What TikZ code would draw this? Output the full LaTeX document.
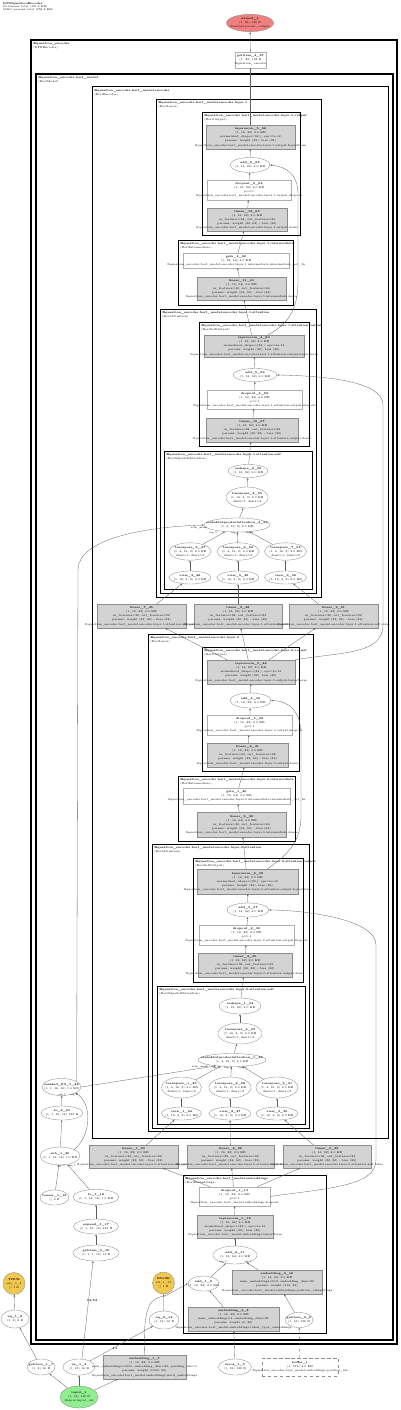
\documentclass[tikz,border=0pt]{standalone}
\usetikzlibrary{shapes.geometric,arrows.meta}

\definecolor{paramgray}{RGB}{211,211,211}
\definecolor{nodegray}{RGB}{140,140,140}
\definecolor{edgegray}{RGB}{95,95,95}
\definecolor{outred}{RGB}{240,128,128}
\definecolor{ingreen}{RGB}{144,238,144}
\definecolor{boolgold}{RGB}{240,200,80}

\newcommand{\nodefont}{\fontsize{2.8}{4.1}\selectfont}
\newcommand{\labfont}{\fontsize{2.5}{3}\selectfont}
\newcommand{\nlab}[2]{\makebox[0pt]{\begin{tabular}{@{}c@{}}\textbf{#1}\\#2\end{tabular}}}
\newcommand{\clus}[2]{\begin{tabular}{@{}l@{}}\textbf{#1}\\#2\end{tabular}}
\newcommand{\qe}{@question\_encoder.bert\_model}

\tikzset{
  fnode/.style={ellipse, draw=nodegray, line width=0.35pt, inner sep=0pt, font=\nodefont},
  pbox/.style={rectangle, draw=nodegray, fill=paramgray, line width=0.35pt, inner sep=0pt, font=\nodefont},
  mbox/.style={rectangle, draw=nodegray!70, fill=white, line width=0.35pt, inner sep=0pt, font=\nodefont},
  bnode/.style={circle, draw=nodegray, fill=boolgold, line width=0.35pt, inner sep=0pt, minimum size=22, font=\nodefont},
  edge/.style={draw=edgegray, line width=0.3pt, -{Stealth[length=2.2pt,width=1.7pt]}},
  elab/.style={inner sep=0pt, font=\labfont},
  clab/.style={anchor=north west, inner sep=0pt, font=\nodefont},
  d1/.style={line width=1.4pt}, d2/.style={line width=1.2pt}, d3/.style={line width=1.0pt},
  d4/.style={line width=0.8pt}, d5/.style={line width=0.6pt}, d6/.style={line width=0.5pt},
}

\begin{document}
\catcode`\_=12
\begin{tikzpicture}[x=1pt,y=-1pt]
\useasboundingbox (0,0) rectangle (400,1410);

\node[anchor=north west, inner sep=0pt, font=\fontsize{2.7}{3.4}\selectfont] (title) at (3,1.5)
  {\begin{tabular}{@{}l@{}}\textbf{DPRQuestionEncoder}\\69 tensors total (121.6 KB)\\65600 params total (256.2 KB)\end{tabular}};

% module boxes
\draw[d1] (31,40) rectangle (397,1344);
\node[clab] (c_qenc) at (33,41.5) {\clus{@question_encoder}{(DPREncoder)}};
\draw[d2] (36,74) rectangle (393,1340);
\node[clab] (c_bert) at (38,75.5) {\clus{\qe}{(BertModel)}};
\draw[d3] (92,87) rectangle (388,1138);
\node[clab] (c_enc) at (94,88.5) {\clus{\qe.encoder}{(BertEncoder)}};
\draw[d3] (183,1175) rectangle (326,1333);
\node[clab] (c_emb) at (185,1176.5) {\clus{\qe.embeddings}{(BertEmbeddings)}};

\draw[d4] (156,99) rectangle (321,597);
\node[clab] (c_l1) at (158,100.5) {\clus{\qe.encoder.layer.1}{(BertLayer)}};
\draw[d5] (202,112) rectangle (300,235);
\node[clab] (c_l1out) at (204,113.5) {\clus{\qe.encoder.layer.1.output}{(BertOutput)}};
\draw[d5] (178,240) rectangle (293,305);
\node[clab] (c_l1int) at (180,241.5) {\clus{\qe.encoder.layer.1.intermediate}{(BertIntermediate)}};
\draw[d5] (160,309) rectangle (316,593);
\node[clab] (c_l1att) at (162,310.5) {\clus{\qe.encoder.layer.1.attention}{(BertAttention)}};
\draw[d6] (199,322) rectangle (309,446);
\node[clab] (c_l1ao) at (201,323.5) {\clus{\qe.encoder.layer.1.attention.output}{(BertSelfOutput)}};
\draw[d6] (164,451) rectangle (312,589);
\node[clab] (c_l1as) at (166,452.5) {\clus{\qe.encoder.layer.1.attention.self}{(BertSdpaSelfAttention)}};

\draw[d4] (148,634) rectangle (313,1131);
\node[clab] (c_l0) at (150,635.5) {\clus{\qe.encoder.layer.0}{(BertLayer)}};
\draw[d5] (202,647) rectangle (299,771);
\node[clab] (c_l0out) at (204,648.5) {\clus{\qe.encoder.layer.0.output}{(BertOutput)}};
\draw[d5] (178,776) rectangle (295,841);
\node[clab] (c_l0int) at (180,777.5) {\clus{\qe.encoder.layer.0.intermediate}{(BertIntermediate)}};
\draw[d5] (152,844) rectangle (309,1128);
\node[clab] (c_l0att) at (154,845.5) {\clus{\qe.encoder.layer.0.attention}{(BertAttention)}};
\draw[d6] (193,858) rectangle (303,982);
\node[clab] (c_l0ao) at (195,859.5) {\clus{\qe.encoder.layer.0.attention.output}{(BertSelfOutput)}};
\draw[d6] (157,986) rectangle (305,1124);
\node[clab] (c_l0as) at (159,987.5) {\clus{\qe.encoder.layer.0.attention.self}{(BertSdpaSelfAttention)}};

% output
\node[fnode, fill=outred, minimum width=47, minimum height=15] (output_1) at (250,23) {\nlab{output_1}{(1, 32) 128 B\\@output.pooler_output}};
\node[mbox, minimum width=31, minimum height=16] (getitem_4_67) at (250.5,60) {\nlab{getitem_4_67}{(1, 32) 128 B\\@question_encoder}};

% layer 1
\node[pbox, minimum width=89, minimum height=24] (layernorm_5_66) at (250.5,137) {\nlab{layernorm_5_66}{(1, 16, 32) 2.0 KB\\normalized_shape=(32,), eps=1e-12\\params: weight (32), bias (32)\\\qe.encoder.layer.1.output.LayerNorm}};
\node[fnode, minimum width=40, minimum height=15] (add_6_65) at (250,165) {\nlab{add_6_65}{(1, 16, 32) 2.0 KB}};
\node[mbox, minimum width=84, minimum height=20] (dropout_5_64) at (249,190) {\nlab{dropout_5_64}{(1, 16, 32) 2.0 KB\\p=0.1\\\qe.encoder.layer.1.output.dropout}};
\node[pbox, minimum width=80, minimum height=23] (linear_12_63) at (247,219.5) {\nlab{linear_12_63}{(1, 16, 32) 2.0 KB\\in_features=64, out_features=32\\params: weight (32, 64) - bias (32)\\\qe.encoder.layer.1.output.dense}};
\node[mbox, minimum width=106, minimum height=15] (gelu_2_62) at (236,260.5) {\nlab{gelu_2_62}{(1, 16, 64) 4.0 KB\\\qe.encoder.layer.1.intermediate.intermediate_act_fn}};
\node[pbox, minimum width=89, minimum height=23] (linear_11_61) at (241.5,288.5) {\nlab{linear_11_61}{(1, 16, 64) 4.0 KB\\in_features=32, out_features=64\\params: weight (64, 32) - bias (64)\\\qe.encoder.layer.1.intermediate.dense}};
\node[pbox, minimum width=100, minimum height=22] (layernorm_4_60) at (254,346) {\nlab{layernorm_4_60}{(1, 16, 32) 2.0 KB\\normalized_shape=(32,), eps=1e-12\\params: weight (32), bias (32)\\\qe.encoder.layer.1.attention.output.LayerNorm}};
\node[fnode, minimum width=44, minimum height=13] (add_5_59) at (255,375) {\nlab{add_5_59}{(1, 16, 32) 2.0 KB}};
\node[mbox, minimum width=95, minimum height=19] (dropout_4_58) at (254.5,399.5) {\nlab{dropout_4_58}{(1, 16, 32) 2.0 KB\\p=0.1\\\qe.encoder.layer.1.attention.output.dropout}};
\node[pbox, minimum width=92, minimum height=24] (linear_10_57) at (252,430) {\nlab{linear_10_57}{(1, 16, 32) 2.0 KB\\in_features=32, out_features=32\\params: weight (32, 32) - bias (32)\\\qe.encoder.layer.1.attention.output.dense}};
\node[fnode, minimum width=40, minimum height=13] (reshape_2_56) at (248,471) {\nlab{reshape_2_56}{(1, 16, 32) 2.0 KB}};
\node[fnode, minimum width=42, minimum height=21] (transpose_8_55) at (247,497.5) {\nlab{transpose_8_55}{(1, 16, 4, 8) 2.0 KB\\dim0=1, dim1=2}};
\node[fnode, minimum width=66, minimum height=14] (scaleddotproductattention_2_54) at (237,525) {\nlab{scaleddotproductattention_2_54}{(1, 4, 16, 8) 2.0 KB}};
\node[fnode, minimum width=42, minimum height=17] (transpose_5_47) at (190,551.5) {\nlab{transpose_5_47}{(1, 4, 16, 8) 2.0 KB\\dim0=1, dim1=2}};
\node[fnode, minimum width=42, minimum height=17] (transpose_6_50) at (238,551.5) {\nlab{transpose_6_50}{(1, 4, 16, 8) 2.0 KB\\dim0=1, dim1=2}};
\node[fnode, minimum width=42, minimum height=17] (transpose_7_53) at (285.5,551.5) {\nlab{transpose_7_53}{(1, 4, 16, 8) 2.0 KB\\dim0=1, dim1=2}};
\node[fnode, minimum width=42, minimum height=13] (view_4_46) at (190,577.5) {\nlab{view_4_46}{(1, 16, 4, 8) 2.0 KB}};
\node[fnode, minimum width=42, minimum height=13] (view_5_49) at (238,577.5) {\nlab{view_5_49}{(1, 16, 4, 8) 2.0 KB}};
\node[fnode, minimum width=42, minimum height=13] (view_6_52) at (285.5,577.5) {\nlab{view_6_52}{(1, 16, 4, 8) 2.0 KB}};
\node[pbox, minimum width=89, minimum height=24] (linear_7_45) at (141.5,616) {\nlab{linear_7_45}{(1, 16, 32) 2.0 KB\\in_features=32, out_features=32\\params: weight (32, 32) - bias (32)\\\qe.encoder.layer.1.attention.self.query}};
\node[pbox, minimum width=88, minimum height=24] (linear_8_48) at (238,616) {\nlab{linear_8_48}{(1, 16, 32) 2.0 KB\\in_features=32, out_features=32\\params: weight (32, 32) - bias (32)\\\qe.encoder.layer.1.attention.self.key}};
\node[pbox, minimum width=89, minimum height=24] (linear_9_51) at (333.5,616) {\nlab{linear_9_51}{(1, 16, 32) 2.0 KB\\in_features=32, out_features=32\\params: weight (32, 32) - bias (32)\\\qe.encoder.layer.1.attention.self.value}};

% layer 0
\node[pbox, minimum width=88, minimum height=24] (layernorm_3_44) at (251,672) {\nlab{layernorm_3_44}{(1, 16, 32) 2.0 KB\\normalized_shape=(32,), eps=1e-12\\params: weight (32), bias (32)\\\qe.encoder.layer.0.output.LayerNorm}};
\node[fnode, minimum width=41, minimum height=15] (add_4_43) at (250.5,700.5) {\nlab{add_4_43}{(1, 16, 32) 2.0 KB}};
\node[mbox, minimum width=85, minimum height=20] (dropout_3_42) at (249.5,725) {\nlab{dropout_3_42}{(1, 16, 32) 2.0 KB\\p=0.1\\\qe.encoder.layer.0.output.dropout}};
\node[pbox, minimum width=81, minimum height=24] (linear_6_41) at (247.5,755) {\nlab{linear_6_41}{(1, 16, 32) 2.0 KB\\in_features=64, out_features=32\\params: weight (32, 64) - bias (32)\\\qe.encoder.layer.0.output.dense}};
\node[mbox, minimum width=107, minimum height=16] (gelu_1_40) at (236.5,796) {\nlab{gelu_1_40}{(1, 16, 64) 4.0 KB\\\qe.encoder.layer.0.intermediate.intermediate_act_fn}};
\node[pbox, minimum width=89, minimum height=25] (linear_5_39) at (241.5,824.5) {\nlab{linear_5_39}{(1, 16, 64) 4.0 KB\\in_features=32, out_features=64\\params: weight (64, 32) - bias (64)\\\qe.encoder.layer.0.intermediate.dense}};
\node[pbox, minimum width=101, minimum height=25] (layernorm_2_38) at (247.5,881.5) {\nlab{layernorm_2_38}{(1, 16, 32) 2.0 KB\\normalized_shape=(32,), eps=1e-12\\params: weight (32), bias (32)\\\qe.encoder.layer.0.attention.output.LayerNorm}};
\node[fnode, minimum width=42, minimum height=14] (add_3_37) at (248,910) {\nlab{add_3_37}{(1, 16, 32) 2.0 KB}};
\node[mbox, minimum width=95, minimum height=20] (dropout_2_36) at (246.5,935) {\nlab{dropout_2_36}{(1, 16, 32) 2.0 KB\\p=0.1\\\qe.encoder.layer.0.attention.output.dropout}};
\node[pbox, minimum width=94, minimum height=24] (linear_4_35) at (245,965) {\nlab{linear_4_35}{(1, 16, 32) 2.0 KB\\in_features=32, out_features=32\\params: weight (32, 32) - bias (32)\\\qe.encoder.layer.0.attention.output.dense}};
\node[fnode, minimum width=42, minimum height=16] (reshape_1_34) at (240,1006) {\nlab{reshape_1_34}{(1, 16, 32) 2.0 KB}};
\node[fnode, minimum width=44, minimum height=21] (transpose_4_33) at (240,1033.5) {\nlab{transpose_4_33}{(1, 16, 4, 8) 2.0 KB\\dim0=1, dim1=2}};
\node[fnode, minimum width=68, minimum height=13] (scaleddotproductattention_1_32) at (232,1060) {\nlab{scaleddotproductattention_1_32}{(1, 4, 16, 8) 2.0 KB}};
\node[fnode, minimum width=40, minimum height=21] (transpose_1_25) at (181.5,1087.5) {\nlab{transpose_1_25}{(1, 4, 16, 8) 2.0 KB\\dim0=1, dim1=2}};
\node[fnode, minimum width=42, minimum height=21] (transpose_2_28) at (230,1087.5) {\nlab{transpose_2_28}{(1, 4, 16, 8) 2.0 KB\\dim0=1, dim1=2}};
\node[fnode, minimum width=42, minimum height=21] (transpose_3_31) at (277,1087.5) {\nlab{transpose_3_31}{(1, 4, 16, 8) 2.0 KB\\dim0=1, dim1=2}};
\node[fnode, minimum width=40, minimum height=13] (view_1_24) at (181.5,1113.5) {\nlab{view_1_24}{(1, 16, 4, 8) 2.0 KB}};
\node[fnode, minimum width=42, minimum height=13] (view_2_27) at (230,1113.5) {\nlab{view_2_27}{(1, 16, 4, 8) 2.0 KB}};
\node[fnode, minimum width=42, minimum height=13] (view_3_30) at (277,1113.5) {\nlab{view_3_30}{(1, 16, 4, 8) 2.0 KB}};
\node[pbox, minimum width=89, minimum height=23] (linear_1_23) at (133.5,1156.5) {\nlab{linear_1_23}{(1, 16, 32) 2.0 KB\\in_features=32, out_features=32\\params: weight (32, 32) - bias (32)\\\qe.encoder.layer.0.attention.self.query}};
\node[pbox, minimum width=87, minimum height=23] (linear_2_26) at (230.5,1156.5) {\nlab{linear_2_26}{(1, 16, 32) 2.0 KB\\in_features=32, out_features=32\\params: weight (32, 32) - bias (32)\\\qe.encoder.layer.0.attention.self.key}};
\node[pbox, minimum width=88, minimum height=23] (linear_3_29) at (327,1156.5) {\nlab{linear_3_29}{(1, 16, 32) 2.0 KB\\in_features=32, out_features=32\\params: weight (32, 32) - bias (32)\\\qe.encoder.layer.0.attention.self.value}};

% attention mask
\node[fnode, minimum width=39, minimum height=17] (masked_fill_1_22) at (61.5,1087) {\nlab{masked_fill_1_22}{(1, 1, 16, 16) 1.0 KB}};
\node[fnode, minimum width=42, minimum height=14] (to_2_21) at (62,1113) {\nlab{to_2_21}{(1, 1, 16, 16) 256 B}};
\node[fnode, minimum width=40, minimum height=18] (sub_1_20) at (60,1156) {\nlab{sub_1_20}{(1, 1, 16, 16) 1.0 KB}};
\node[fnode, minimum width=29, minimum height=15] (tensor_1_19) at (54.5,1197.5) {\nlab{tensor_1_19}{() 4 B}};
\node[fnode, minimum width=46, minimum height=15] (to_1_18) at (96,1197) {\nlab{to_1_18}{(1, 1, 16, 16) 1.0 KB}};
\node[fnode, minimum width=45, minimum height=15] (expand_1_17) at (96,1226.5) {\nlab{expand_1_17}{(1, 1, 16, 16) 256 B}};
\node[fnode, minimum width=46, minimum height=16] (getitem_3_16) at (96,1253) {\nlab{getitem_3_16}{(1, 1, 1, 16) 16 B}};
\node[bnode] (all_1_15) at (163.5,1283) {\nlab{FALSE}{all_1_15\\() 1 B}};
\node[fnode, minimum width=30, minimum height=18] (eq_2_14) at (164,1320) {\nlab{eq_2_14}{(1, 16) 16 B}};

% embeddings
\node[mbox, minimum width=71, minimum height=19] (dropout_1_13) at (234.5,1196.5) {\nlab{dropout_1_13}{(1, 16, 32) 2.0 KB\\p=0.1\\\qe.embeddings.dropout}};
\node[pbox, minimum width=76, minimum height=23] (layernorm_1_12) at (235,1226.5) {\nlab{layernorm_1_12}{(1, 16, 32) 2.0 KB\\normalized_shape=(32,), eps=1e-12\\params: weight (32), bias (32)\\\qe.embeddings.LayerNorm}};
\node[fnode, minimum width=44, minimum height=18] (add_2_11) at (235,1255) {\nlab{add_2_11}{(1, 16, 32) 2.0 KB}};
\node[fnode, minimum width=31, minimum height=15] (add_1_9) at (203.5,1283.5) {\nlab{add_1_9}{(1, 16, 32) 2.0 KB}};
\node[pbox, minimum width=90, minimum height=24] (embedding_3_10) at (277,1282) {\nlab{embedding_3_10}{(1, 16, 32) 2.0 KB\\num_embeddings=512, embedding_dim=32\\params: weight (512, 32)\\\qe.embeddings.position_embeddings}};
\node[pbox, minimum width=91, minimum height=24] (embedding_2_8) at (233.5,1319) {\nlab{embedding_2_8}{(1, 16, 32) 2.0 KB\\num_embeddings=2, embedding_dim=32\\params: weight (2, 32)\\\qe.embeddings.token_type_embeddings}};
\node[fnode, minimum width=28, minimum height=15] (getitem_2_6) at (299,1320) {\nlab{getitem_2_6}{(1, 16) 128 B}};

% inputs
\node[bnode] (any_1_3) at (14,1283.5) {\nlab{TRUE}{any_1_3\\() 1 B}};
\node[fnode, minimum width=28, minimum height=18] (eq_1_2) at (15,1319) {\nlab{eq_1_2}{(1, 2) 2 B}};
\node[fnode, minimum width=28, minimum height=16] (getitem_1_1) at (41,1367) {\nlab{getitem_1_1}{(1, 2) 16 B}};
\node[fnode, minimum width=32, minimum height=16] (ne_1_4) at (79,1367) {\nlab{ne_1_4}{(1, 16) 16 B}};
\node[pbox, minimum width=83, minimum height=24] (embedding_1_7) at (144.5,1367) {\nlab{embedding_1_7}{(1, 16, 32) 2.0 KB\\num_embeddings=1000, embedding_dim=32, padding_idx=0\\params: weight (1000, 32)\\\qe.embeddings.word_embeddings}};
\node[fnode, minimum width=33, minimum height=16] (zeros_1_5) at (235,1367) {\nlab{zeros_1_5}{(1, 16) 128 B}};
\node[cylinder, shape border rotate=90, aspect=0.12, draw=nodegray, dashed, line width=0.35pt, inner sep=0pt, minimum width=76, minimum height=18, font=\nodefont] (buffer_1) at (300,1367) {\nlab{buffer_1}{(1, 512) 4.0 KB\\\qe.embeddings.position_ids}};
\node[fnode, fill=ingreen, minimum width=38, minimum height=22] (input_1) at (79,1397) {\nlab{input_1}{(1, 16) 128 B\\@input.input_ids}};

% edges, layer 1
\draw[edge] (getitem_4_67) -- (output_1);
\draw[edge] (layernorm_5_66) -- (getitem_4_67);
\draw[edge] (add_6_65) -- (layernorm_5_66);
\draw[edge] (dropout_5_64) -- (add_6_65);
\draw[edge] (linear_12_63) -- (dropout_5_64);
\draw[edge] (gelu_2_62) -- (linear_12_63);
\draw[edge] (linear_11_61) -- (gelu_2_62);
\draw[edge] (layernorm_4_60) -- (linear_11_61);
\draw[edge] ([xshift=14]layernorm_4_60.north) .. controls (292,322) and (298,305) .. (298,280) -- (298,195) .. controls (298,175) and (288,167) .. (add_6_65.east);
\draw[edge] (add_5_59) -- (layernorm_4_60);
\draw[edge] (dropout_4_58) -- (add_5_59);
\draw[edge] (linear_10_57) -- (dropout_4_58);
\draw[edge] (reshape_2_56) -- (linear_10_57);
\draw[edge] (transpose_8_55) -- (reshape_2_56);
\draw[edge] (scaleddotproductattention_2_54) -- (transpose_8_55);
\draw[edge] (transpose_5_47) -- (scaleddotproductattention_2_54);
\draw[edge] (transpose_6_50) -- (scaleddotproductattention_2_54);
\draw[edge] (transpose_7_53) -- (scaleddotproductattention_2_54);
\draw[edge] (view_4_46) -- (transpose_5_47);
\draw[edge] (view_5_49) -- (transpose_6_50);
\draw[edge] (view_6_52) -- (transpose_7_53);
\draw[edge] (linear_7_45) -- (view_4_46);
\draw[edge] (linear_8_48) -- (view_5_49);
\draw[edge] (linear_9_51) -- (view_6_52);
\draw[edge] (layernorm_3_44) -- (linear_7_45);
\draw[edge] (layernorm_3_44) -- (linear_8_48);
\draw[edge] (layernorm_3_44) -- (linear_9_51);
\draw[edge] (layernorm_3_44.north east) .. controls (340,652) and (383,655) .. (383,625) -- (383,405) .. controls (383,382) and (330,376) .. (add_5_59.east);

% edges, layer 0
\draw[edge] (add_4_43) -- (layernorm_3_44);
\draw[edge] (dropout_3_42) -- (add_4_43);
\draw[edge] (linear_6_41) -- (dropout_3_42);
\draw[edge] (gelu_1_40) -- (linear_6_41);
\draw[edge] (linear_5_39) -- (gelu_1_40);
\draw[edge] (layernorm_2_38) -- (linear_5_39);
\draw[edge] ([xshift=20]layernorm_2_38.north) .. controls (292,852) and (301,838) .. (301,815) -- (301,735) .. controls (301,712) and (290,701) .. (add_4_43.east);
\draw[edge] (add_3_37) -- (layernorm_2_38);
\draw[edge] (dropout_2_36) -- (add_3_37);
\draw[edge] (linear_4_35) -- (dropout_2_36);
\draw[edge] (reshape_1_34) -- (linear_4_35);
\draw[edge] (transpose_4_33) -- (reshape_1_34);
\draw[edge] (scaleddotproductattention_1_32) -- (transpose_4_33);
\draw[edge] (transpose_1_25) -- (scaleddotproductattention_1_32);
\draw[edge] (transpose_2_28) -- (scaleddotproductattention_1_32);
\draw[edge] (transpose_3_31) -- (scaleddotproductattention_1_32);
\draw[edge] (view_1_24) -- (transpose_1_25);
\draw[edge] (view_2_27) -- (transpose_2_28);
\draw[edge] (view_3_30) -- (transpose_3_31);
\draw[edge] (linear_1_23) -- (view_1_24);
\draw[edge] (linear_2_26) -- (view_2_27);
\draw[edge] (linear_3_29) -- (view_3_30);
\draw[edge] (dropout_1_13) -- (linear_1_23);
\draw[edge] (dropout_1_13) -- (linear_2_26);
\draw[edge] (dropout_1_13) -- (linear_3_29);
\draw[edge] (dropout_1_13.east) .. controls (330,1188) and (376,1186) .. (376,1160) -- (376,945) .. controls (376,918) and (300,910) .. (add_3_37.east);

% edges, mask
\draw[edge] (masked_fill_1_22.20) -- (78,570) .. controls (78,540) and (140,527) .. (scaleddotproductattention_2_54.west);
\draw[edge] (masked_fill_1_22.east) -- (scaleddotproductattention_1_32.200);
\draw[edge] (to_2_21) -- (masked_fill_1_22);
\draw[edge] (sub_1_20.north east) .. controls (92,1135) and (92,1102) .. (masked_fill_1_22.south east);
\draw[edge] (sub_1_20) -- (to_2_21);
\draw[edge] (tensor_1_19) -- (sub_1_20);
\draw[edge] (to_1_18) -- (sub_1_20);
\draw[edge] (expand_1_17) -- (to_1_18);
\draw[edge] (getitem_3_16) -- (expand_1_17);
\draw[edge] (ne_1_4.70) -- (getitem_3_16.250);
\draw[edge] (ne_1_4) -- (eq_2_14);
\draw[edge] (eq_2_14) -- (all_1_15);

% edges, embeddings and inputs
\draw[edge] (layernorm_1_12) -- (dropout_1_13);
\draw[edge] (add_2_11) -- (layernorm_1_12);
\draw[edge] (add_1_9) -- (add_2_11);
\draw[edge] (embedding_3_10) -- (add_2_11);
\draw[edge] (embedding_1_7.north) .. controls (143,1305) and (150,1298) .. (165,1296) -- (add_1_9.west);
\draw[edge] (embedding_2_8) -- (add_1_9);
\draw[edge] (getitem_2_6) -- (embedding_3_10);
\draw[edge, dashed] (buffer_1) -- (getitem_2_6);
\draw[edge] (zeros_1_5) -- (embedding_2_8);
\draw[edge] (input_1) -- (embedding_1_7);
\draw[edge] (input_1) -- (ne_1_4);
\draw[edge] (input_1) -- (getitem_1_1);
\draw[edge] (getitem_1_1) -- (eq_1_2);
\draw[edge] (eq_1_2) -- (any_1_3);

% edge labels
\node[elab] (lm2) at (199,527.5) {attn_mask};
\node[elab] (la2q) at (213,532.5) {arg 0};
\node[elab] (la2k) at (235,532.5) {arg 1};
\node[elab] (la2v) at (249,532.5) {arg 2};
\node[elab] (lm1) at (200,1066.5) {attn_mask};
\node[elab] (la1q) at (216,1067.5) {arg 0};
\node[elab] (la1k) at (228,1067.5) {arg 1};
\node[elab] (la1v) at (243,1067.5) {arg 2};
\node[elab] (lmf0) at (62,1094.5) {arg 1};
\node[elab] (lmf1) at (74,1094.5) {arg 0};
\node[elab] (lsub0) at (61,1165.5) {arg 0};
\node[elab] (lsub1) at (72,1165.5) {arg 1};
\node[elab] (ladd0) at (223,1261.5) {arg 0};
\node[elab] (ladd1) at (248,1261.5) {arg 1};
\node[elab, font=\fontsize{3}{3.5}\selectfont\bfseries] (lne1) at (92,1301) {13,54};
\node[elab, font=\fontsize{3}{3.5}\selectfont\bfseries] (lne2) at (115,1348) {11};
\end{tikzpicture}
\end{document}
